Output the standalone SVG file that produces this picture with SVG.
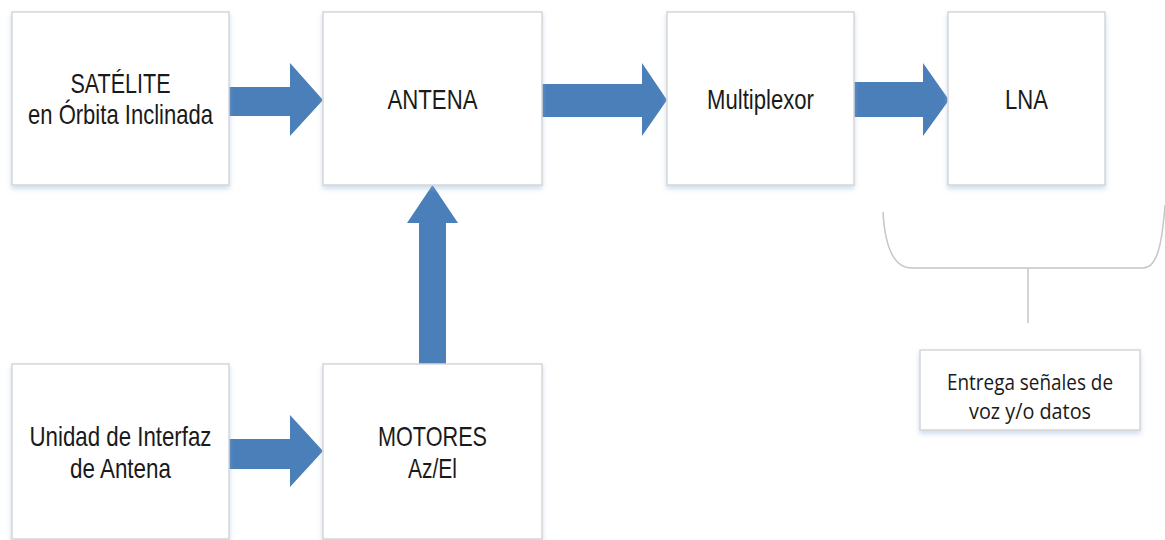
<svg xmlns="http://www.w3.org/2000/svg" width="1165" height="540" viewBox="0 0 1165 540">
<defs>
<filter id="sh" x="-5%" y="-5%" width="110%" height="115%">
<feDropShadow dx="0" dy="3" stdDeviation="2.5" flood-color="#8fb0d8" flood-opacity="0.45"/>
</filter>
<style>
.box{fill:#ffffff;stroke:#d6d6d6;stroke-width:1.5;filter:url(#sh)}
.t{font-family:"Liberation Sans",Arial,sans-serif;font-size:28px;fill:#1a1a1a;text-anchor:middle}
.c{font-family:"Open Sans","Liberation Sans",sans-serif;font-size:22px;fill:#1a1a1a;text-anchor:middle}
.arr{fill:#4a7fba}
.ln{fill:none;stroke:#c6c6c6;stroke-width:1.5}
</style>
</defs>
<rect width="1165" height="540" fill="#ffffff"/>

<g id="connectors">
<polygon class="arr" points="229,87 290,87 290,63 323,100 290,136 290,116 229,116"/>
<polygon class="arr" points="542,84 642,84 642,63 667,100 642,136 642,117 542,117"/>
<polygon class="arr" points="854,82 923,82 923,63 949,100 923,136 923,117 854,117"/>
<polygon class="arr" points="229,439 290,439 290,415 323,451 290,487 290,469 229,469"/>
<polygon class="arr" points="419,364 419,223 407,223 432.5,185 458,223 446,223 446,364"/>
<path class="ln" d="M883,212 C885,248 894,268 912,268 L1143,268 C1157,268 1162,245 1165,205"/>
<line class="ln" x1="1028" y1="268" x2="1028" y2="323"/>
</g>

<g id="satelite">
<rect class="box" x="12" y="12" width="217" height="173"/>
<text class="t" x="120.5" y="93" textLength="100" lengthAdjust="spacingAndGlyphs">SATÉLITE</text>
<text class="t" x="120.5" y="124" textLength="185" lengthAdjust="spacingAndGlyphs">en Órbita Inclinada</text>
</g>

<g id="antena">
<rect class="box" x="323" y="12" width="219" height="173"/>
<text class="t" x="432.5" y="109" textLength="90" lengthAdjust="spacingAndGlyphs">ANTENA</text>
</g>

<g id="multiplexor">
<rect class="box" x="667" y="12" width="187" height="173"/>
<text class="t" x="760.5" y="109" textLength="107" lengthAdjust="spacingAndGlyphs">Multiplexor</text>
</g>

<g id="lna">
<rect class="box" x="948" y="12" width="157" height="173"/>
<text class="t" x="1026.5" y="109" textLength="43" lengthAdjust="spacingAndGlyphs">LNA</text>
</g>

<g id="unidad">
<rect class="box" x="12" y="364" width="217" height="175"/>
<text class="t" x="120.5" y="446" textLength="182" lengthAdjust="spacingAndGlyphs">Unidad de Interfaz</text>
<text class="t" x="120.5" y="478" textLength="101" lengthAdjust="spacingAndGlyphs">de Antena</text>
</g>

<g id="motores">
<rect class="box" x="323" y="364" width="219" height="175"/>
<text class="t" x="432.5" y="446" textLength="109" lengthAdjust="spacingAndGlyphs">MOTORES</text>
<text class="t" x="432.5" y="478" textLength="49" lengthAdjust="spacingAndGlyphs">Az/El</text>
</g>

<g id="entrega">
<rect class="box" x="920" y="350" width="220" height="80"/>
<text class="c" x="1030" y="390" textLength="166" lengthAdjust="spacingAndGlyphs">Entrega señales de</text>
<text class="c" x="1030" y="419" textLength="122" lengthAdjust="spacingAndGlyphs">voz y/o datos</text>
</g>
</svg>
